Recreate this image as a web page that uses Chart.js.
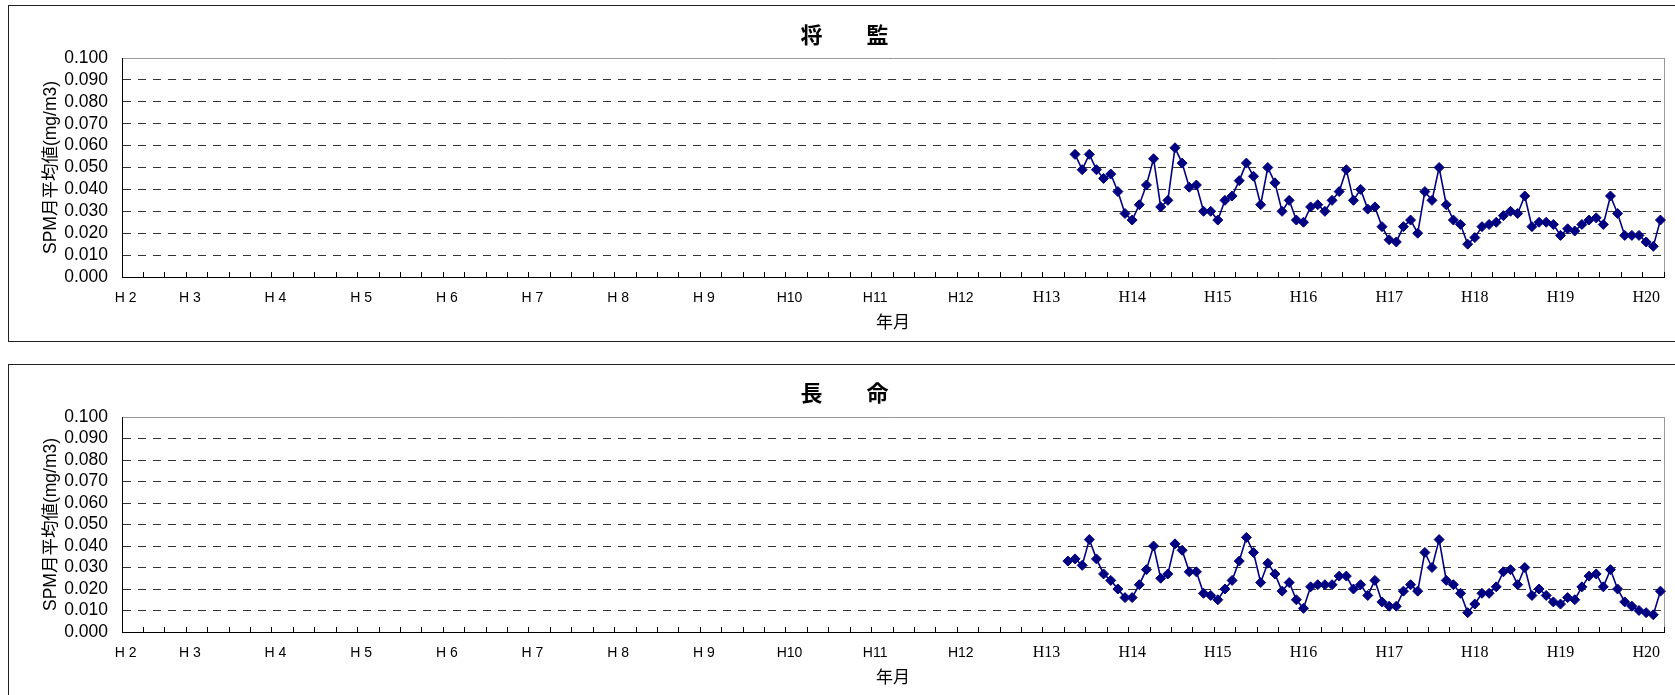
<!DOCTYPE html>
<html>
<head>
<meta charset="utf-8">
<script src="https://cdn.jsdelivr.net/npm/chart.js@4/dist/chart.umd.min.js"></script>
<style>
  body { margin: 0; background: #fff; overflow: hidden; width: 1675px; height: 695px; position: relative; }
  .frame { position: absolute; border: 1px solid #222; box-sizing: border-box; }
  .wrap { position: absolute; }
</style>
</head>
<body>
<div class="frame" style="left:8px;top:5px;width:1720px;height:337px"></div>
<div class="wrap" style="left:9px;top:7px;width:1671px;height:334px"><canvas id="shogenChart"></canvas></div>
<div class="frame" style="left:8px;top:364px;width:1720px;height:400px"></div>
<div class="wrap" style="left:9px;top:365px;width:1671px;height:331px"><canvas id="chomeiChart"></canvas></div>
<script>
// months on the category axis (H2 .. H20)
const monthCount = 216;
const yearLabels = ['H 2', 'H 3', 'H 4', 'H 5', 'H 6', 'H 7', 'H 8', 'H 9', 'H10', 'H11',
  'H12', 'H13', 'H14', 'H15', 'H16', 'H17', 'H18', 'H19', 'H20'];
const yearLabelMonths = [0, 9, 21, 33, 45, 57, 69, 81, 93, 105, 117, 129, 141, 153, 165, 177, 189, 201, 213];

// 将監 monthly SPM (mg/m3)
const shogenStart = 133;
const shogenValues = [
  0.056, 0.049, 0.056, 0.049, 0.045, 0.047, 0.039, 0.029, 0.026, 0.033, 0.042, 0.054,
  0.032, 0.035, 0.059, 0.052, 0.041, 0.042, 0.030, 0.030, 0.026, 0.035, 0.037, 0.044,
  0.052, 0.046, 0.033, 0.050, 0.043, 0.030, 0.035, 0.026, 0.025, 0.032, 0.033, 0.030,
  0.035, 0.039, 0.049, 0.035, 0.040, 0.031, 0.032, 0.023, 0.017, 0.016, 0.023, 0.026,
  0.020, 0.039, 0.035, 0.050, 0.033, 0.026, 0.024, 0.015, 0.018, 0.023, 0.024, 0.025,
  0.028, 0.030, 0.029, 0.037, 0.023, 0.025, 0.025, 0.024, 0.019, 0.022, 0.021, 0.024,
  0.026, 0.027, 0.024, 0.037, 0.029, 0.019, 0.019, 0.019, 0.016, 0.014, 0.026
];

// 長命 monthly SPM (mg/m3)
const chomeiStart = 132;
const chomeiValues = [
  0.033, 0.034, 0.031, 0.043, 0.034, 0.027, 0.024, 0.020, 0.016, 0.016, 0.022, 0.029,
  0.040, 0.025, 0.027, 0.041, 0.038, 0.028, 0.028, 0.018, 0.017, 0.015, 0.020, 0.024,
  0.033, 0.044, 0.037, 0.023, 0.032, 0.027, 0.019, 0.023, 0.015, 0.011, 0.021, 0.022,
  0.022, 0.022, 0.026, 0.026, 0.020, 0.022, 0.017, 0.024, 0.014, 0.012, 0.012, 0.019,
  0.022, 0.019, 0.037, 0.030, 0.043, 0.024, 0.022, 0.018, 0.009, 0.013, 0.018, 0.018,
  0.021, 0.028, 0.029, 0.022, 0.030, 0.017, 0.020, 0.017, 0.014, 0.013, 0.016, 0.015,
  0.021, 0.026, 0.027, 0.021, 0.029, 0.020, 0.014, 0.012, 0.010, 0.009, 0.008, 0.019
];

const monthLabels = new Array(monthCount).fill('');
yearLabelMonths.forEach((m, i) => { monthLabels[m] = yearLabels[i]; });

function padSeries(start, values) {
  const arr = new Array(monthCount).fill(null);
  values.forEach((v, i) => { arr[start + i] = v; });
  return arr;
}

Chart.defaults.font.family = "'Liberation Sans', 'Noto Sans CJK JP', sans-serif";
Chart.defaults.color = '#000';

const clear = 'rgba(0,0,0,0)';

function createSpmChart(id, title, data, titlePad) {
  return new Chart(document.getElementById(id), {
    type: 'line',
    data: {
      labels: monthLabels,
      datasets: [{
        data,
        borderColor: '#000080',
        backgroundColor: '#000080',
        borderWidth: 1.6,
        pointStyle: 'rectRot',
        pointRadius: 5,
        pointBorderWidth: 1,
        tension: 0,
        clip: false
      }]
    },
    options: {
      responsive: true,
      maintainAspectRatio: false,
      animation: false,
      layout: { padding: 0 },
      plugins: {
        legend: { display: false },
        tooltip: { enabled: false },
        title: {
          display: true,
          text: title,
          color: '#000',
          font: { family: "'Noto Sans CJK JP'", size: 22, weight: 'bold' },
          padding: titlePad
        }
      },
      scales: {
        x: {
          type: 'category',
          offset: true,
          grid: {
            offset: true,
            drawOnChartArea: true,
            color: ctx => ctx.type === 'tick' ? clear : '#999',
            tickColor: ctx => (ctx.type !== 'tick' || ctx.index % 3 === 0) ? '#000' : clear,
            tickLength: -5,
            tickWidth: 1
          },
          border: { color: '#000', width: 1 },
          ticks: {
            autoSkip: false,
            maxRotation: 0,
            minRotation: 0,
            padding: 17,
            color: '#000',
            font: ctx => ctx.index >= 129
              ? { family: "'Liberation Serif'", size: 16, lineHeight: '18px' }
              : { family: "'Liberation Sans'", size: 14, lineHeight: '18px' },
            callback: (val, i) => monthLabels[i]
          },
          title: {
            display: true,
            text: '年月',
            color: '#000',
            font: { family: "'Noto Sans CJK JP'", size: 17 },
            padding: { top: 0, bottom: 8.8 }
          },
          afterFit: s => { s.height = 64; }
        },
        y: {
          min: 0,
          max: 0.1,
          grid: {
            drawTicks: false,
            color: ctx => ctx.index === 10 ? '#999' : '#333',
            lineWidth: 1
          },
          border: {
            color: '#000',
            width: 1,
            dash: ctx => (ctx.type === 'tick' && ctx.index > 0 && ctx.index < 10) ? [8, 7] : []
          },
          ticks: {
            stepSize: 0.01,
            autoSkip: false,
            padding: 14,
            color: '#000',
            font: { size: 17.5 },
            callback: val => Number(val).toFixed(3)
          },
          title: {
            display: true,
            text: 'SPM月平均値(mg/m3)',
            color: '#000',
            font: { size: 17.5 },
            padding: { top: 32, bottom: 0 }
          },
          afterFit: s => { s.width = 113; }
        },
        yRight: {
          axis: 'y',
          position: 'right',
          display: true,
          grid: { display: false },
          border: { display: false },
          ticks: { display: false },
          afterFit: s => { s.width = 16; }
        }
      }
    }
  });
}

const charts = {
  shogen: createSpmChart('shogenChart', '将　　監', padSeries(shogenStart, shogenValues), { top: 14.8, bottom: 9.8 }),
  chomei: createSpmChart('chomeiChart', '長　　命', padSeries(chomeiStart, chomeiValues), { top: 14.8, bottom: 10.8 })
};
</script>
</body>
</html>
